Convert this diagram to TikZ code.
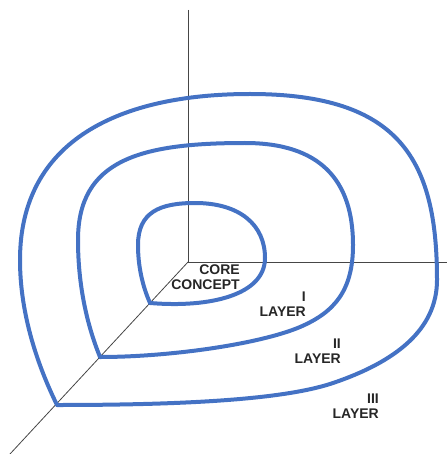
\documentclass[tikz,border=0pt]{standalone}
\usepackage{fontspec}
\setmainfont{Liberation Sans}
\definecolor{loopblue}{RGB}{68,114,196}
\definecolor{axisgray}{RGB}{70,70,70}
\begin{document}
\begin{tikzpicture}[x=1pt,y=-1pt,
  axisline/.style={draw=axisgray,line width=0.8pt},
  loopline/.style={draw=loopblue,line width=4pt,line join=round,line cap=round},
  lbl/.style={font=\bfseries\fontsize{14}{15}\selectfont,align=right,inner sep=0pt,text=black!85}]
\useasboundingbox (0,0) rectangle (447,454);
\coordinate (O) at (188,262);
\coordinate (top) at (188,10);
\coordinate (right) at (447,262);
\coordinate (diag) at (10,454);
\draw[axisline] (top) -- (O);
\draw[axisline] (O) -- (right);
\draw[axisline] (O) -- (diag);
% inner loop
\coordinate (c1) at (150,303);
\draw[loopline] (c1) .. controls (142,285) and (138,265) .. (138,245)
  .. controls (138,212) and (160,203) .. (195,203)
  .. controls (240,203) and (265,225) .. (265,258)
  .. controls (265,295) and (210,308) .. (c1);
% middle loop
\coordinate (c2) at (100,357);
\draw[loopline] (c2) .. controls (85,320) and (78,280) .. (78,240)
  .. controls (78,160) and (140,143) .. (245,143)
  .. controls (320,143) and (353,180) .. (353,245)
  .. controls (353,290) and (335,312) .. (300,327)
  .. controls (260,344) and (170,357) .. (c2);
% outer loop
\coordinate (c3) at (57,405);
\draw[loopline] (c3) .. controls (35,360) and (20,310) .. (20,260)
  .. controls (20,140) and (120,94) .. (250,94)
  .. controls (400,94) and (437,160) .. (437,280)
  .. controls (437,330) and (395,362) .. (333,383)
  .. controls (283,400) and (180,405) .. (c3);
\node[lbl,anchor=north east] (core) at (240,265) {CORE\\CONCEPT};
\node[lbl,anchor=north east] (l1) at (306,292) {I\\LAYER};
\node[lbl,anchor=north east] (l2) at (341,339) {II\\LAYER};
\node[lbl,anchor=north east] (l3) at (379,394) {III\\LAYER};
\end{tikzpicture}
\end{document}
